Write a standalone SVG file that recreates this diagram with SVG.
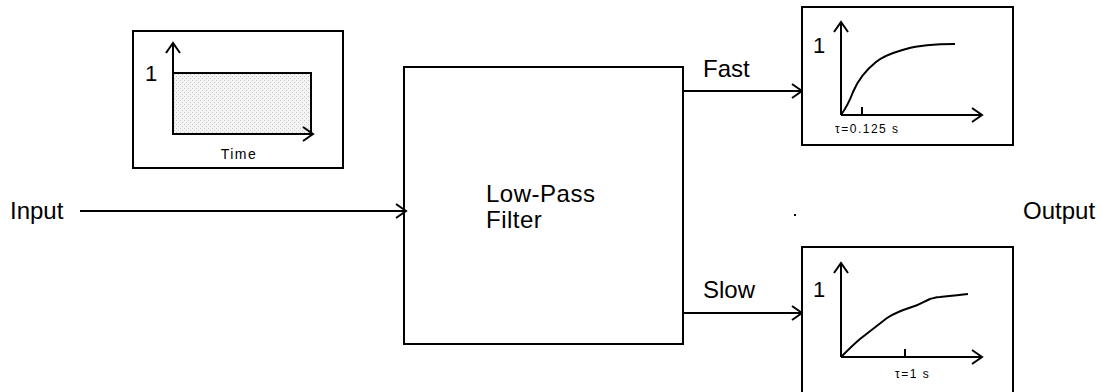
<svg xmlns="http://www.w3.org/2000/svg" width="1102" height="392" viewBox="0 0 1102 392">
<style>
.box{fill:#fff;stroke:#000;stroke-width:2}
.ln{fill:none;stroke:#000;stroke-width:2}
.t{font-family:"Liberation Sans",Arial,sans-serif;fill:#000}
.big{font-size:24px}
.one{font-size:22px}
.sm{font-size:12px;letter-spacing:1.5px}
</style>
<defs>
<marker id="ah" markerWidth="14" markerHeight="16" refX="12" refY="8" orient="auto" markerUnits="userSpaceOnUse">
<path d="M2,1 L12,8 L2,15" fill="none" stroke="#000" stroke-width="2"/>
</marker>
<pattern id="dots" width="4" height="4" patternUnits="userSpaceOnUse">
<rect width="4" height="4" fill="#f4f4f4"/>
<rect x="0" y="0" width="1" height="1" fill="#c8c8c8"/>
<rect x="2" y="2" width="1" height="1" fill="#c8c8c8"/>
</pattern>
</defs>
<rect width="1102" height="392" fill="#fff"/>

<g id="input-plot">
<rect class="box" x="133" y="31" width="210" height="137"/>
<rect x="173" y="73" width="138" height="61" fill="url(#dots)" stroke="#000" stroke-width="2"/>
<line class="ln" x1="173" y1="134" x2="173" y2="43" marker-end="url(#ah)"/>
<line class="ln" x1="173" y1="134" x2="313" y2="134" marker-end="url(#ah)"/>
<text class="t one" x="145" y="81">1</text>
<text class="t" x="239" y="159" text-anchor="middle" style="font-size:14px;letter-spacing:1.5px">Time</text>
</g>

<g id="input-label">
<text class="t big" x="10" y="219">Input</text>
</g>

<g id="filter">
<rect class="box" x="404" y="67" width="279" height="277"/>
<text class="t big" x="486" y="202" style="letter-spacing:0.5px">Low-Pass</text>
<text class="t big" x="486" y="228" style="letter-spacing:0.5px">Filter</text>
</g>

<g id="connectors">
<line class="ln" x1="80" y1="211" x2="406" y2="211" marker-end="url(#ah)"/>
<line class="ln" x1="683" y1="91" x2="802" y2="91" marker-end="url(#ah)"/>
<line class="ln" x1="683" y1="313" x2="802" y2="313" marker-end="url(#ah)"/>
<text class="t big" x="703" y="77">Fast</text>
<text class="t big" x="703" y="298">Slow</text>
</g>

<g id="fast-plot">
<rect class="box" x="802" y="7" width="211" height="138"/>
<line class="ln" x1="841" y1="115" x2="841" y2="22" marker-end="url(#ah)"/>
<line class="ln" x1="841" y1="115" x2="982" y2="115" marker-end="url(#ah)"/>
<line class="ln" x1="862" y1="107" x2="862" y2="115"/>
<path class="ln" d="M841,115 C846,108 850,100 853,92 C858,80 866,70 876,62 C886,54 896,52 906,49 C920,45 940,44 955,44"/>
<text class="t one" x="813" y="53">1</text>
<text class="t sm" x="835" y="133">τ=0.125 s</text>
</g>

<g id="slow-plot">
<rect class="box" x="802" y="247" width="211" height="150"/>
<line class="ln" x1="841" y1="357" x2="841" y2="263" marker-end="url(#ah)"/>
<line class="ln" x1="841" y1="357" x2="982" y2="357" marker-end="url(#ah)"/>
<line class="ln" x1="905" y1="349" x2="905" y2="357"/>
<path class="ln" d="M841,357 C848,350 854,344 860,339 C869,332 878,325 887,318 C896,312 906,309 915,306 C921,304 925,301 930,299 C934,298 937,297 940,297 C950,296 960,295 968,294"/>
<text class="t one" x="813" y="297">1</text>
<text class="t sm" x="895" y="378">τ=1 s</text>
</g>

<g id="output-label">
<text class="t big" x="1023" y="219">Output</text>
<rect x="794" y="214" width="2" height="2" fill="#000"/>
</g>
</svg>
